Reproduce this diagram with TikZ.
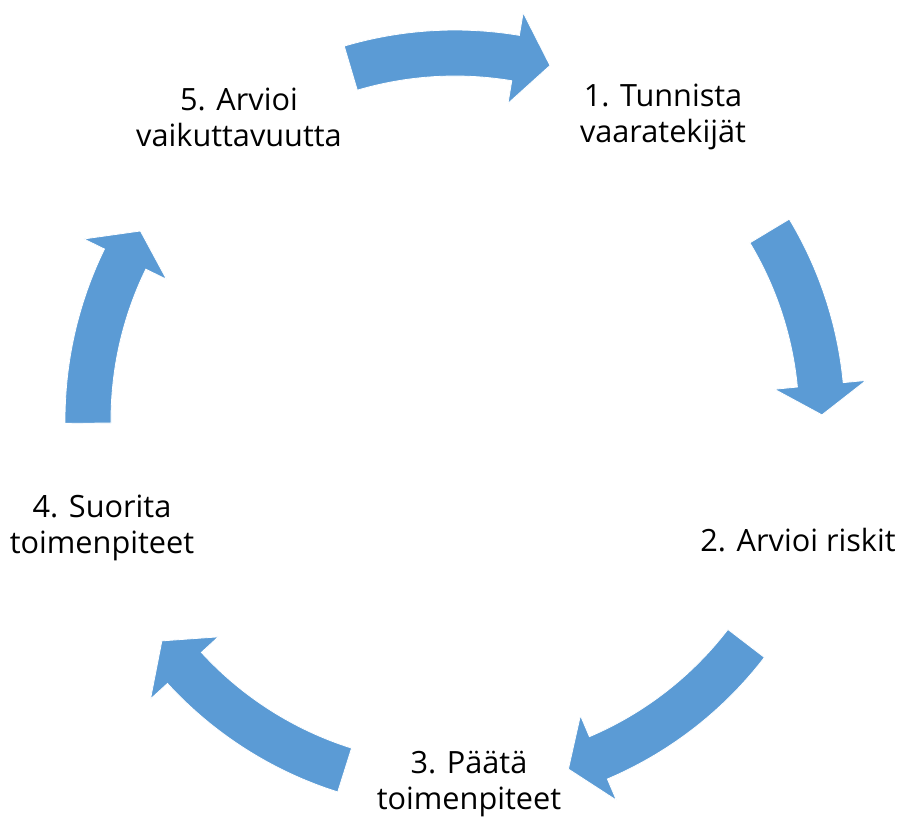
\documentclass[tikz,border=0pt]{standalone}
\usepackage{fontspec}
\setmainfont{Open Sans}
\usepackage{tikz}
\usetikzlibrary{positioning}

\definecolor{cycleblue}{HTML}{5B9BD5}

\begin{document}
\begin{tikzpicture}[
        x=0.75pt, y=0.75pt,
        stage/.style={
            text centered,
            align=center,
            font=\fontsize{23}{27}\selectfont
        },
        blockarrow/.style={
            fill=cycleblue,
            draw=white,
            line width=0.6pt
        }
    ]
        \useasboundingbox (-455,-398) rectangle (454,420);

        % Nodes
        \node [stage] (assess)   at (-216,303) {5. Arvioi\\vaikuttavuutta};
        \node [stage] (identify) at (208,303) {1. Tunnista\\vaaratekijät};
        \node [stage] (risks)    at (343,-120) {2. Arvioi riskit};
        \node [stage] (decide)   at (14,-364) {3. Päätä\\toimenpiteet};
        \node [stage] (perform)  at (-353,-108) {4. Suorita\\toimenpiteet};

        % Arrows (tail angle / head base angle / tip angle)
        \foreach \t/\b/\h in {106.5/80.5/75, 31/5.5/0.8, -37.5/-67/-72,
                              -107.5/-137.5/-143, 180.5/154/149}
            \path [blockarrow] (\t:390) arc[start angle=\t, end angle=\b, radius=390]
                -- (\b:413) -- (\h:367) -- (\b:321) -- (\b:344)
                arc[start angle=\b, end angle=\t, radius=344] -- cycle;
    \end{tikzpicture}
\end{document}
